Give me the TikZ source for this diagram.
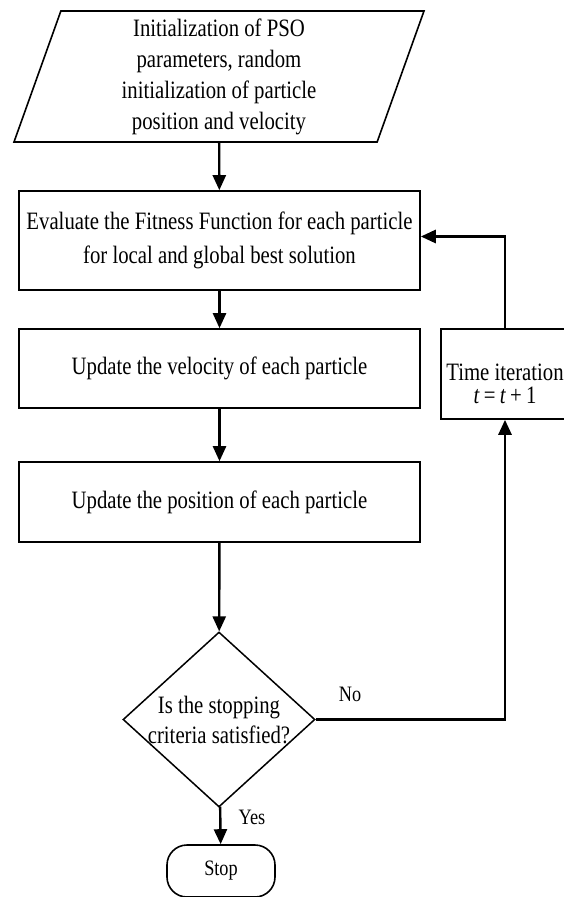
\documentclass[tikz,border=0pt]{standalone}
\usepackage{fontspec}
\setmainfont{Liberation Serif}[FakeStretch=0.83]
\usetikzlibrary{shapes.geometric,arrows.meta}

\begin{document}
\begin{tikzpicture}[x=1pt,y=-1pt,
  box/.style={draw,line width=1.6pt,rectangle,minimum width=401pt,inner sep=0pt,align=center,font=\fontsize{25}{34}\selectfont},
  io/.style={draw,line width=1.6pt,trapezium,trapezium left angle=68,trapezium right angle=112,trapezium stretches body,minimum width=410pt,minimum height=131pt,inner sep=0pt,align=center,font=\fontsize{25}{31}\selectfont},
  decision/.style={draw,line width=1.5pt,diamond,minimum width=192pt,minimum height=175pt,inner sep=0pt},
  terminal/.style={draw,line width=1.6pt,rectangle,rounded corners=20pt,minimum width=108pt,minimum height=52pt,font=\fontsize{22}{26}\selectfont},
  flow/.style={line width=2.4pt,-{Triangle[length=15pt,width=13pt]}},
  lbl/.style={font=\fontsize{22}{26}\selectfont}]
\useasboundingbox (0,0) rectangle (564,897);

% main column
\node[io] (init) at (219,76.5) {Initialization of PSO\\parameters, random\\initialization of particle\\position and velocity};
\node[box,minimum height=99pt] (eval) at (219.5,240.5) {Evaluate the Fitness Function for each particle\\for local and global best solution};
\node[box,minimum height=79pt] (vel) at (219.5,368.5) {Update the velocity of each particle};
\node[box,minimum height=80pt] (pos) at (219.5,502) {Update the position of each particle};
\node[decision] (check) at (219,719.5) {};
\node[align=center,font=\fontsize{25}{30}\selectfont] (checktxt) at (check) {Is the stopping\\criteria satisfied?};
\node[terminal] (stop) at (221,871) {Stop};

% loop back box
\node[draw,line width=1.6pt,minimum width=128pt,minimum height=90pt,inner sep=0pt] (time) at (505,374) {};
\node[align=center,font=\fontsize{25}{23}\selectfont] (timetxt) at ([yshift=-10pt]time.center) {Time iteration\\\textit{t}\,=\,\textit{t}\,+\,1};

\draw[flow] (init) -- (eval);
\draw[flow] (eval) -- (vel);
\draw[flow] (vel) -- (pos);
\draw[flow] (pos) -- (check);
\draw[flow] (check) -- (stop);
\draw[flow,line width=2.8pt] (check.east) -| (time.south);
\draw[flow,line width=2.8pt] (time.north) |- ([yshift=4pt]eval.east);

\node[lbl] (yes) at (252,817) {Yes};
\node[lbl] (no) at (350,694) {No};
\end{tikzpicture}
\end{document}
